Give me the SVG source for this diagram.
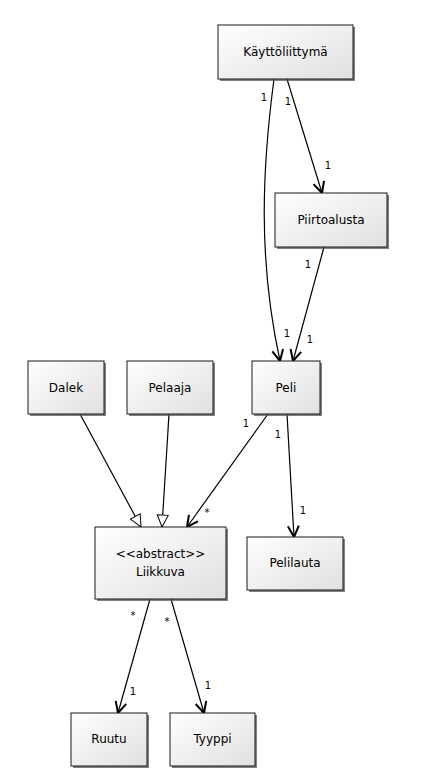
<svg xmlns="http://www.w3.org/2000/svg" width="425" height="783" viewBox="0 0 425 783">
<defs>
<linearGradient id="g" x1="0" y1="0" x2="1" y2="1">
<stop offset="0" stop-color="#ffffff"/>
<stop offset="1" stop-color="#e0e0e0"/>
</linearGradient>
<marker id="open" viewBox="0 0 14 14" refX="12.5" refY="7" markerWidth="14" markerHeight="14" markerUnits="userSpaceOnUse" orient="auto">
<path d="M1.5,1.5 L12.5,7 L1.5,12.5" fill="none" stroke="#000" stroke-width="2"/>
</marker>
<marker id="tri" viewBox="0 0 14 14" refX="13" refY="7" markerWidth="14" markerHeight="14" markerUnits="userSpaceOnUse" orient="auto">
<path d="M1,1.5 L13,7 L1,12.5 Z" fill="#fff" stroke="#000" stroke-width="1"/>
</marker>
</defs>
<style>
.box{fill:url(#g);stroke:#1a1a1a;stroke-width:1}
.sh{fill:#555;opacity:0.75}
.t{font-family:"DejaVu Sans",Verdana,sans-serif;font-size:12px;fill:#000;text-anchor:middle}
.m{font-family:"DejaVu Sans",Verdana,sans-serif;font-size:10px;fill:#000;text-anchor:middle}
.c{fill:none;stroke:#000;stroke-width:1.2}
</style>
<rect width="425" height="783" fill="#fff"/>
<g id="connectors">
<path class="c" d="M274,79 C262,170 258,260 280,361" marker-end="url(#open)"/>
<path class="c" d="M287,79 L322,193" marker-end="url(#open)"/>
<path class="c" d="M324,247 L293,361" marker-end="url(#open)"/>
<path class="c" d="M268,414 L187,527" marker-end="url(#open)"/>
<path class="c" d="M287,414 L294,537" marker-end="url(#open)"/>
<path class="c" d="M80,414 L141,527" marker-end="url(#tri)"/>
<path class="c" d="M169,414 L162,527" marker-end="url(#tri)"/>
<path class="c" d="M150,599 L118,713" marker-end="url(#open)"/>
<path class="c" d="M171,599 L204,713" marker-end="url(#open)"/>
<text class="m" x="264" y="101">1</text>
<text class="m" x="288" y="105">1</text>
<text class="m" x="328" y="169">1</text>
<text class="m" x="308" y="268">1</text>
<text class="m" x="287" y="337">1</text>
<text class="m" x="310" y="343">1</text>
<text class="m" x="246" y="427">1</text>
<text class="m" x="278" y="438">1</text>
<text class="m" x="207" y="516">*</text>
<text class="m" x="303" y="514">1</text>
<text class="m" x="133" y="619">*</text>
<text class="m" x="167" y="625">*</text>
<text class="m" x="133" y="695">1</text>
<text class="m" x="208" y="689">1</text>
</g>
<g id="kayttoliittyma">
<rect class="sh" x="220" y="27" width="135" height="54"/>
<rect class="box" x="218" y="25" width="135" height="54"/>
<text class="t" x="285.5" y="56">Käyttöliittymä</text>
</g>
<g id="piirtoalusta">
<rect class="sh" x="277" y="195" width="112" height="54"/>
<rect class="box" x="275" y="193" width="112" height="54"/>
<text class="t" x="331" y="224">Piirtoalusta</text>
</g>
<g id="dalek">
<rect class="sh" x="30" y="363" width="76" height="53"/>
<rect class="box" x="28" y="361" width="76" height="53"/>
<text class="t" x="66" y="392">Dalek</text>
</g>
<g id="pelaaja">
<rect class="sh" x="129" y="363" width="86" height="53"/>
<rect class="box" x="127" y="361" width="86" height="53"/>
<text class="t" x="170" y="392">Pelaaja</text>
</g>
<g id="peli">
<rect class="sh" x="254" y="363" width="68" height="53"/>
<rect class="box" x="252" y="361" width="68" height="53"/>
<text class="t" x="286" y="392">Peli</text>
</g>
<g id="liikkuva">
<rect class="sh" x="97" y="529" width="131" height="72"/>
<rect class="box" x="95" y="527" width="131" height="72"/>
<text class="t" x="160.5" y="558">&lt;&lt;abstract&gt;&gt;</text>
<text class="t" x="160.5" y="576">Liikkuva</text>
</g>
<g id="pelilauta">
<rect class="sh" x="249" y="539" width="96" height="53"/>
<rect class="box" x="247" y="537" width="96" height="53"/>
<text class="t" x="295" y="567">Pelilauta</text>
</g>
<g id="ruutu">
<rect class="sh" x="73" y="715" width="76" height="53"/>
<rect class="box" x="71" y="713" width="76" height="53"/>
<text class="t" x="109" y="743">Ruutu</text>
</g>
<g id="tyyppi">
<rect class="sh" x="172" y="715" width="85" height="53"/>
<rect class="box" x="170" y="713" width="85" height="53"/>
<text class="t" x="212.5" y="743">Tyyppi</text>
</g>
</svg>
